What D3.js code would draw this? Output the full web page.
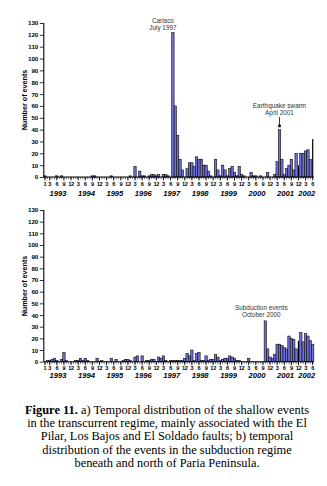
<!DOCTYPE html>
<html>
<head>
<meta charset="utf-8">
<script src="https://cdn.jsdelivr.net/npm/d3@7"></script>
<style>
  body { margin: 0; background: #fff; }
  svg { display: block; font-family: 'Liberation Sans', Arial, sans-serif; }
</style>
</head>
<body>
<svg id="chart" width="327" height="486"></svg>
<script>
'use strict'

// Monthly counts, Jan 1993 .. Jun 2002 (114 months).
const shallowEvents = [
  1, 0, 0, 0, 0, 1, 0, 1, 0, 0, 0, 0,        // 1993
  0, 0, 0, 0, 0, 0, 0, 0, 1, 1, 0, 0,        // 1994
  0, 0, 0, 0, 1, 0, 0, 0, 0, 0, 0, 0,        // 1995
  1, 0, 9, 0, 5, 1, 1, 0, 1, 2, 2, 1,        // 1996
  2, 0, 2, 2, 1, 0, 122, 60, 35, 15, 6, 0,   // 1997
  7, 12, 12, 9, 17, 15, 15, 10, 10, 5, 1, 0, // 1998
  15, 6, 1, 10, 6, 1, 7, 9, 4, 1, 9, 2,      // 1999
  1, 0, 0, 4, 1, 1, 0, 1, 0, 0, 4, 0,        // 2000
  0, 2, 13, 40, 15, 2, 7, 10, 15, 6, 20, 10, // 2001
  20, 20, 22, 23, 15, 32                     // 2002
]
const subductionEvents = [
  0, 1, 1, 2, 3, 1, 0, 2, 8, 1, 0, 0,        // 1993
  0, 1, 1, 3, 1, 3, 1, 0, 0, 0, 3, 0,        // 1994
  1, 0, 0, 0, 3, 0, 2, 0, 0, 1, 2, 2,        // 1995
  1, 0, 4, 5, 0, 5, 0, 1, 1, 2, 2, 0,        // 1996
  4, 3, 5, 1, 0, 1, 1, 1, 1, 1, 1, 3,        // 1997
  7, 5, 10, 1, 7, 8, 1, 1, 5, 1, 2, 2,       // 1998
  6, 4, 1, 2, 3, 3, 5, 4, 3, 1, 1, 0,        // 1999
  0, 0, 3, 0, 0, 0, 0, 0, 0, 35, 11, 4,      // 2000
  3, 6, 15, 15, 14, 12, 11, 22, 20, 19, 11, 18, // 2001
  25, 17, 24, 22, 18, 15                     // 2002
]
// months drawn as thin dark bars
const shallowDark = ['2001-12', '2002-06']
const subductionDark = ['2001-12']

const years = ['1993', '1994', '1995', '1996', '1997', '1998', '1999', '2000', '2001', '2002']
const labelledMonths = [3, 6, 9, 12]
const yTicks = [0, 10, 20, 30, 40, 50, 60, 70, 80, 90, 100, 110, 120, 130]
const yTitle = 'Number of events'

const cariacoNote = ['Cariaco', 'July 1997']
const swarmNote = ['Earthquake swarm', 'April 2001']
const subductionNote = ['Subduction events', 'October 2000']

const caption = [
  'a) Temporal distribution of the shallow events',
  'in the transcurrent regime, mainly associated with the El',
  'Pilar, Los Bajos and El Soldado faults; b) temporal',
  'distribution of the events in the subduction regime',
  'beneath and north of Paria Peninsula.'
]

const monthKey = d3.timeFormat('%Y-%m')
const months = d3.timeMonth.range(new Date(1993, 0, 1), new Date(2002, 6, 1))
const keys = months.map(monthKey)

const svg = d3.select('#chart')

const x = d3.scaleBand().domain(keys).range([43.8, 43.8 + keys.length * 2.369]).padding(0)
const bw = x.bandwidth()

const panels = [
  { values: shallowEvents, dark: shallowDark, top: 23, bottom: 177, titleY: 100,
    monthDy: 9.2, yearDy: 19 },
  { values: subductionEvents, dark: subductionDark, top: 210, bottom: 361.7, titleY: 286,
    monthDy: 8, yearDy: 16.5 }
]

panels.forEach((p, pi) => {
  const y = d3.scaleLinear().domain([0, 130]).range([p.bottom, p.top])
  const g = svg.append('g')
  const data = keys.map((k, i) => ({ key: k, date: months[i], value: p.values[i] }))

  // Bars.
  g.selectAll('rect.bar')
    .data(data.filter(d => d.value > 0 && !p.dark.includes(d.key)))
    .enter()
    .append('rect')
    .attr('class', 'bar')
    .attr('x', d => x(d.key))
    .attr('width', bw)
    .attr('y', d => y(d.value))
    .attr('height', d => y(0) - y(d.value))
    .attr('fill', '#6f6fd6')
    .attr('stroke', '#000')
    .attr('stroke-width', 0.55)
  g.selectAll('rect.dark')
    .data(data.filter(d => p.dark.includes(d.key)))
    .enter()
    .append('rect')
    .attr('class', 'dark')
    .attr('x', d => x(d.key) + bw / 2 - 0.6)
    .attr('width', 1.2)
    .attr('y', d => y(d.value))
    .attr('height', d => y(0) - y(d.value))
    .attr('fill', '#000')

  // Y axis.
  const yAxis = g.append('g')
    .attr('transform', `translate(${x.range()[0]},0)`)
    .call(d3.axisLeft(y).tickValues(yTicks).tickSize(4).tickPadding(1.5))
  yAxis.select('.domain').attr('d', `M0,${p.top}V${p.bottom}`).attr('stroke-width', 1.1)
  yAxis.selectAll('text')
    .attr('font-size', 6.2)
    .attr('font-weight', 'bold')
    .attr('font-family', 'Liberation Sans, Arial, sans-serif')
  yAxis.selectAll('line').attr('stroke-width', 0.8)

  g.append('text')
    .attr('transform', `translate(26.5,${p.titleY}) rotate(-90)`)
    .attr('text-anchor', 'middle')
    .attr('font-size', 7.2)
    .attr('font-weight', 'bold')
    .text(yTitle)

  // X axis: every month a short tick, quarters longer and labelled.
  const xAxis = g.append('g')
    .attr('transform', `translate(0,${p.bottom})`)
    .call(d3.axisBottom(x).tickSize(2).tickFormat(''))
  xAxis.select('.domain').attr('d', `M${x.range()[0]},0H${x.range()[1]}`).attr('stroke-width', 1.1)
  xAxis.selectAll('line').attr('stroke-width', 0.6)

  const quarters = data.filter((d, i) => i === 0 || labelledMonths.includes(d.date.getMonth() + 1))
  const q = g.append('g').attr('transform', `translate(0,${p.bottom})`)
  q.selectAll('line')
    .data(quarters)
    .enter()
    .append('line')
    .attr('x1', d => x(d.key) + bw / 2)
    .attr('x2', d => x(d.key) + bw / 2)
    .attr('y1', 0)
    .attr('y2', 3.5)
    .attr('stroke', '#000')
    .attr('stroke-width', 0.9)
  q.selectAll('text')
    .data(quarters)
    .enter()
    .append('text')
    .attr('x', d => x(d.key) + bw / 2)
    .attr('y', p.monthDy)
    .attr('text-anchor', 'middle')
    .attr('font-size', 5.6)
    .attr('font-weight', 'bold')
    .attr('letter-spacing', -0.3)
    .text(d => d.date.getMonth() + 1)

  g.selectAll('text.year')
    .data(years)
    .enter()
    .append('text')
    .attr('class', 'year')
    .attr('x', yr => {
      const inYear = keys.filter(k => k.startsWith(yr))
      return x(inYear[0]) + (inYear.length * bw) / 2
    })
    .attr('y', p.bottom + p.yearDy)
    .attr('text-anchor', 'middle')
    .attr('font-size', 7.6)
    .attr('font-weight', 'bold')
    .attr('font-style', 'italic')
    .text(yr => yr)

  // Annotations.
  const note = (lines, key, dx, gap) => {
    const v = p.values[keys.indexOf(key)]
    const cx = x(key) + bw / 2 + dx
    lines.forEach((line, li) => {
      g.append('text')
        .attr('x', cx)
        .attr('y', y(v) - gap - (lines.length - 1 - li) * 7.3)
        .attr('text-anchor', 'middle')
        .attr('font-size', 6.4)
        .attr('fill', '#333')
        .text(line)
    })
  }
  if (pi === 0) {
    note(cariacoNote, '1997-07', -10, 2)
    note(swarmNote, '2001-04', 0, 14.5)
    const ax = x('2001-04') + bw / 2
    const top = y(p.values[keys.indexOf('2001-04')])
    g.append('line')
      .attr('x1', ax).attr('x2', ax)
      .attr('y1', top - 12.5).attr('y2', top - 4)
      .attr('stroke', '#000').attr('stroke-width', 0.8)
    g.append('rect')
      .attr('x', ax - 1.3).attr('y', top - 5)
      .attr('width', 2.6).attr('height', 2.6)
      .attr('fill', '#000')
  } else {
    note(subductionNote, '2000-10', -4, 4)
  }
})

// Caption.
const cap = svg.append('g').attr('font-family', 'Liberation Serif, Times New Roman, serif')
  .attr('font-size', 12.4)
  .attr('text-anchor', 'middle')
caption.forEach((line, i) => {
  const t = cap.append('text').attr('x', 167).attr('y', 414 + i * 13.2)
  if (i === 0) {
    t.append('tspan').attr('font-weight', 'bold').text('Figure 11. ')
  }
  t.append('tspan').text(line)
})
</script>
</body>
</html>
